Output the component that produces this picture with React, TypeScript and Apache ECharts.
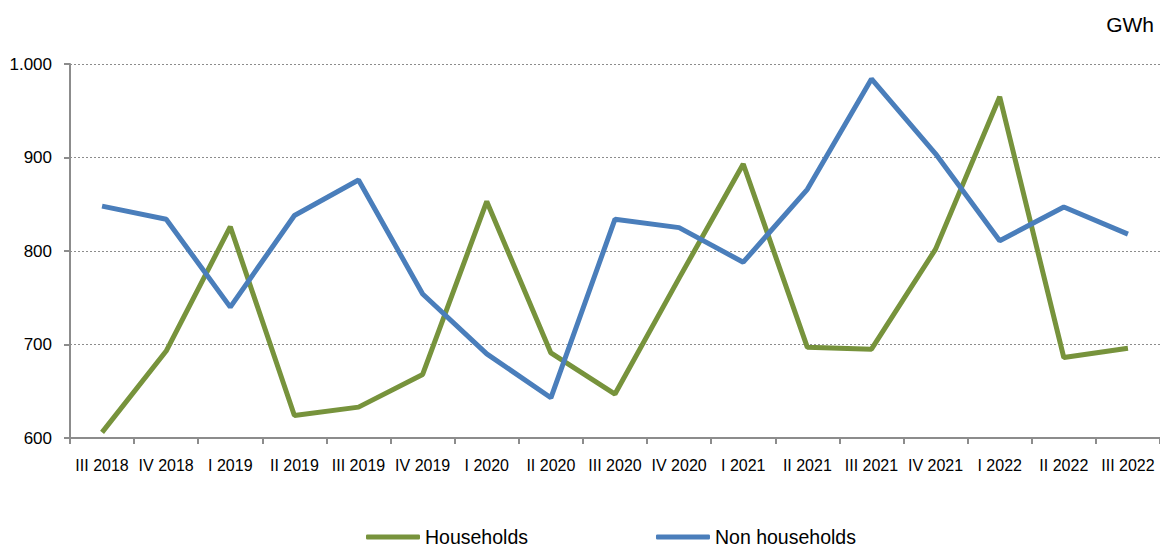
import React, { useEffect, useRef } from "react";
import * as echarts from "echarts";

const categories = [
  "III 2018", "IV 2018", "I 2019", "II 2019", "III 2019", "IV 2019",
  "I 2020", "II 2020", "III 2020", "IV 2020", "I 2021", "II 2021",
  "III 2021", "IV 2021", "I 2022", "II 2022", "III 2022",
];
const households = [606, 693, 826, 624, 633, 668, 853, 691, 647, 771, 893, 697, 695, 802, 965, 686, 696];
const nonHouseholds = [848, 834, 740, 838, 876, 754, 690, 643, 834, 825, 788, 866, 984, 904, 811, 847, 818];
const yTicks = { min: 600, max: 1000, interval: 100 };
const unitLabel = "GWh";

const FONT = "'Liberation Sans', Arial, sans-serif";

export default function App() {
  const ref = useRef<HTMLDivElement>(null);
  useEffect(() => {
    if (!ref.current) return;
    const chart = echarts.init(ref.current, undefined, { renderer: "svg" });
    chart.setOption({
      animation: false,
      backgroundColor: "#ffffff",
      textStyle: { fontFamily: FONT },
      grid: { left: 70, right: 0, top: 64, bottom: 110 },
      graphic: [
        {
          type: "text",
          right: 6,
          top: 14,
          style: { text: unitLabel, font: `21px ${FONT}`, fill: "#000" },
        },
      ],
      legend: {
        top: 526,
        left: 366,
        padding: 0,
        itemWidth: 54,
        itemHeight: 5,
        itemGap: 128,
        icon: "roundRect",
        textStyle: { fontSize: 19.5, color: "#000", fontFamily: FONT, lineHeight: 22 },
        data: ["Households", "Non households"],
      },
      xAxis: {
        type: "category",
        data: categories,
        boundaryGap: true,
        axisLine: { lineStyle: { color: "#8c8c8c", width: 2 } },
        axisTick: { show: true, length: 6, lineStyle: { color: "#8c8c8c", width: 2 } },
        axisLabel: { color: "#000", fontSize: 16, fontFamily: FONT, margin: 19, interval: 0 },
        splitLine: { show: false },
      },
      yAxis: {
        type: "value",
        min: yTicks.min,
        max: yTicks.max,
        interval: yTicks.interval,
        axisLine: { show: true, lineStyle: { color: "#8c8c8c", width: 2 } },
        axisTick: { show: true, length: 6, lineStyle: { color: "#8c8c8c", width: 2 } },
        axisLabel: {
          color: "#000",
          fontSize: 17,
          fontFamily: FONT,
          margin: 18,
          formatter: (v: number) => v.toLocaleString("de-DE"),
        },
        splitLine: { show: true, lineStyle: { color: "#8c8c8c", type: [2, 2], width: 1 } },
      },
      series: [
        {
          name: "Households",
          type: "line",
          data: households,
          showSymbol: false,
          symbol: "none",
          lineStyle: { color: "#77933C", width: 5 },
          itemStyle: { color: "#77933C" },
        },
        {
          name: "Non households",
          type: "line",
          data: nonHouseholds,
          showSymbol: false,
          symbol: "none",
          lineStyle: { color: "#4A7EBB", width: 5 },
          itemStyle: { color: "#4A7EBB" },
        },
      ],
    });
    return () => chart.dispose();
  }, []);
  return (
    <div
      ref={ref}
      style={{ position: "fixed", left: 0, top: 0, width: 1160, height: 548 }}
    />
  );
}
